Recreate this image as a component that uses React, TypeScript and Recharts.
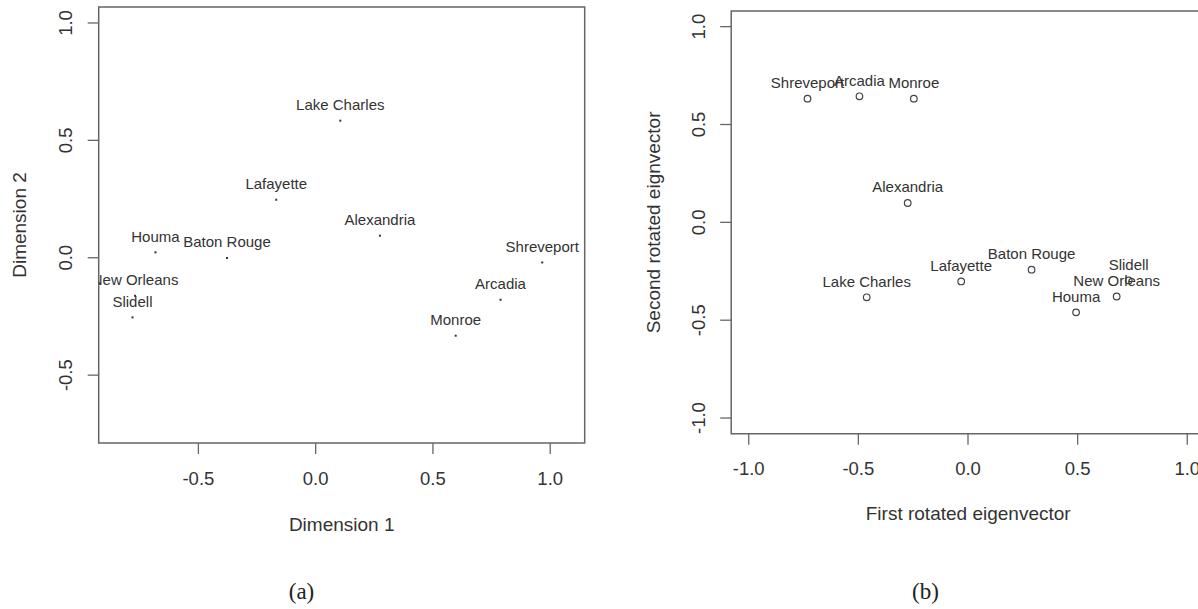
import React from 'react';
import { ScatterChart, Scatter, XAxis, YAxis, ReferenceArea, Label } from 'recharts';

// ---- Panel (a): classical MDS ----
const citiesA = ['Lake Charles', 'Lafayette', 'Alexandria', 'Houma', 'Baton Rouge', 'Shreveport', 'Arcadia', 'Monroe', 'Slidell', 'New Orleans'];
const dim1 = [0.105, -0.168, 0.274, -0.683, -0.378, 0.966, 0.788, 0.597, -0.781, -0.77];
const dim2 = [0.584, 0.247, 0.094, 0.023, -0.001, -0.02, -0.179, -0.332, -0.254, -0.162];
const ticksAx = [-0.5, 0, 0.5, 1];
const ticksAy = [-0.5, 0, 0.5, 1];
const domainAx: [number, number] = [-0.925, 1.147];
const domainAy: [number, number] = [-0.789, 1.068];

// ---- Panel (b): rotated eigenvectors ----
const citiesB = ['Shreveport', 'Arcadia', 'Monroe', 'Alexandria', 'Lafayette', 'Baton Rouge', 'Lake Charles', 'Houma', 'New Orleans', 'Slidell'];
const eig1 = [-0.732, -0.495, -0.247, -0.275, -0.031, 0.29, -0.462, 0.493, 0.678, 0.733];
const eig2 = [0.632, 0.644, 0.632, 0.099, -0.302, -0.242, -0.383, -0.46, -0.379, -0.297];
const ticksB = [-1, -0.5, 0, 0.5, 1];
const domainB: [number, number] = [-1.08, 1.08];

const dataA = citiesA.map((name, i) => ({ name, x: dim1[i], y: dim2[i] }));
const dataB = citiesB.map((name, i) => ({ name, x: eig1[i], y: eig2[i] }));

const SANS = '"Liberation Sans", Arial, Helvetica, sans-serif';
const TEXT = '#333';
const LINE = '#666';
const fmt = (v: number) => v.toFixed(1);

const DotA = (props: any) => {
  const { cx, cy, payload } = props;
  return (
    <g>
      <rect x={cx - 1} y={cy - 1} width={2} height={2} fill="#333" />
      <text x={cx} y={cy - 10.5} textAnchor="middle" fontSize={15} fill={TEXT} fontFamily={SANS}>
        {payload.name}
      </text>
    </g>
  );
};

const DotB = (props: any) => {
  const { cx, cy, payload } = props;
  return (
    <g>
      <circle cx={cx} cy={cy} r={3.3} fill="none" stroke="#444" strokeWidth={1.2} />
      <text x={cx} y={cy - 10.5} textAnchor="middle" fontSize={15} fill={TEXT} fontFamily={SANS}>
        {payload.name}
      </text>
    </g>
  );
};

const makeYTick = (cxText: number) => (props: any) => {
  const { y, payload } = props;
  return (
    <text
      transform={`translate(${cxText},${y}) rotate(-90)`}
      textAnchor="middle"
      dominantBaseline="central"
      fontSize={18.5}
      fill={TEXT}
      fontFamily={SANS}
    >
      {fmt(payload.value)}
    </text>
  );
};

const makeXTick = (cyText: number) => (props: any) => {
  const { x, payload } = props;
  return (
    <text x={x} y={cyText} textAnchor="middle" dominantBaseline="central" fontSize={18.5} fill={TEXT} fontFamily={SANS}>
      {fmt(payload.value)}
    </text>
  );
};

const title = (text: string, x: number, y: number, rotate = false) => () => (
  <text
    x={x}
    y={y}
    transform={rotate ? `rotate(-90 ${x} ${y})` : undefined}
    textAnchor="middle"
    dominantBaseline="central"
    fontSize={19}
    fill={TEXT}
    fontFamily={SANS}
  >
    {text}
  </text>
);

const captionStyle = (cx: number): React.CSSProperties => ({
  position: 'absolute',
  left: cx - 50,
  top: 580,
  width: 100,
  textAlign: 'center',
  fontFamily: '"Liberation Serif", "Times New Roman", serif',
  fontSize: 23,
  lineHeight: '23px',
  color: '#222',
});

export default function App() {
  return (
    <div style={{ position: 'absolute', left: 0, top: 0, width: 1198, height: 609, overflow: 'hidden', background: '#fff' }}>
      <div style={{ position: 'absolute', left: 0, top: 0 }}>
        <ScatterChart width={600} height={609} margin={{ top: 7, right: 15.3, bottom: 126, left: 38.7 }}>
          <XAxis
            type="number"
            dataKey="x"
            domain={domainAx}
            ticks={ticksAx}
            allowDataOverflow
            axisLine={false}
            tickLine={{ stroke: LINE, strokeWidth: 1.3 }}
            tickSize={11}
            height={40}
            tick={makeXTick(478.3)}
            interval={0}
          >
            <Label content={title('Dimension 1', 341.7, 524)} />
          </XAxis>
          <YAxis
            type="number"
            dataKey="y"
            domain={domainAy}
            ticks={ticksAy}
            allowDataOverflow
            axisLine={false}
            tickLine={{ stroke: LINE, strokeWidth: 1.3 }}
            tickSize={11}
            width={60}
            tick={makeYTick(65.1)}
            interval={0}
          >
            <Label content={title('Dimension 2', 19.5, 225, true)} />
          </YAxis>
          <ReferenceArea
            x1={domainAx[0]}
            x2={domainAx[1]}
            y1={domainAy[0]}
            y2={domainAy[1]}
            fill="none"
            stroke={LINE}
            strokeWidth={1.5}
            ifOverflow="visible"
          />
          <Scatter data={dataA} shape={DotA} isAnimationActive={false} />
        </ScatterChart>
      </div>
      <div style={{ position: 'absolute', left: 600, top: 0 }}>
        <ScatterChart width={620} height={609} margin={{ top: 11, right: 15.2, bottom: 135.3, left: 71.2 }}>
          <XAxis
            type="number"
            dataKey="x"
            domain={domainB}
            ticks={ticksB}
            allowDataOverflow
            axisLine={false}
            tickLine={{ stroke: LINE, strokeWidth: 1.3 }}
            tickSize={11}
            height={40}
            tick={makeXTick(468.3)}
            interval={0}
          >
            <Label content={title('First rotated eigenvector', 368.2, 513)} />
          </XAxis>
          <YAxis
            type="number"
            dataKey="y"
            domain={domainB}
            ticks={ticksB}
            allowDataOverflow
            axisLine={false}
            tickLine={{ stroke: LINE, strokeWidth: 1.3 }}
            tickSize={11}
            width={60}
            tick={makeYTick(98.5)}
            interval={0}
          >
            <Label content={title('Second rotated eignvector', 53.2, 222.4, true)} />
          </YAxis>
          <ReferenceArea
            x1={domainB[0]}
            x2={domainB[1]}
            y1={domainB[0]}
            y2={domainB[1]}
            fill="none"
            stroke={LINE}
            strokeWidth={1.5}
            ifOverflow="visible"
          />
          <Scatter data={dataB} shape={DotB} isAnimationActive={false} />
        </ScatterChart>
      </div>
      <div style={captionStyle(301.5)}>(a)</div>
      <div style={captionStyle(925.5)}>(b)</div>
    </div>
  );
}
